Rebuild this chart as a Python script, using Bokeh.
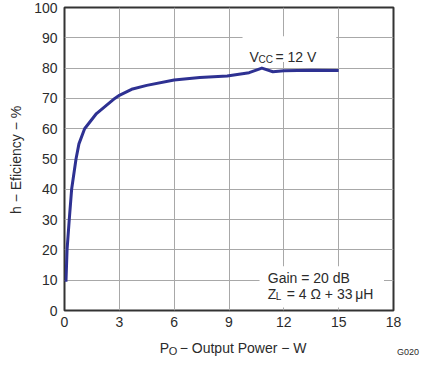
from bokeh.plotting import figure
from bokeh.models import Range1d, Label, BoxAnnotation, FixedTicker
from bokeh.embed import file_html
from bokeh.resources import INLINE

# Data
power_w = [0.08, 0.14, 0.26, 0.39, 0.63, 0.79, 1.1, 1.75, 2.75, 3.0, 3.67, 4.5, 6.0,
           7.4, 8.9, 10.1, 10.8, 11.4, 12.0, 13.5, 15.0]
efficiency = [9.5, 20, 30, 40, 50, 55, 60, 65, 70, 71, 73, 74.3, 76.1,
              76.9, 77.4, 78.5, 80.0, 78.8, 79.1, 79.3, 79.2]
x_ticks = [0, 3, 6, 9, 12, 15, 18]
y_ticks = [0, 10, 20, 30, 40, 50, 60, 70, 80, 90, 100]

FONT = "Liberation Sans"
TXT = "#2b2b2b"

p = figure(width=421, height=383, output_backend="svg", toolbar_location=None,
           x_range=Range1d(0, 18), y_range=Range1d(0, 100))
p.min_border_left = 64
p.min_border_right = 28
p.min_border_top = 7
p.min_border_bottom = 50
p.outline_line_color = "#333333"
p.outline_line_width = 2
p.background_fill_color = "white"
p.border_fill_color = "white"

for ax in (p.xaxis[0], p.yaxis[0]):
    ax.axis_line_color = None
    ax.major_tick_line_color = None
    ax.minor_tick_line_color = None
    ax.major_tick_out = 0
    ax.major_tick_in = 0
    ax.major_label_text_font = FONT
    ax.major_label_text_font_size = "14px"
    ax.major_label_text_color = TXT
    ax.axis_label = None
p.xaxis.ticker = FixedTicker(ticks=x_ticks)
p.yaxis.ticker = FixedTicker(ticks=y_ticks)
p.xaxis.major_label_standoff = 6
p.yaxis.major_label_standoff = 7

p.xgrid.ticker = FixedTicker(ticks=x_ticks[1:-1])
p.ygrid.ticker = FixedTicker(ticks=y_ticks[1:-1])
p.grid.grid_line_color = "#a8a8a8"
p.grid.grid_line_width = 1

p.line(power_w, efficiency, line_color="#2e3192", line_width=3, line_join="round")

# white boxes behind annotations
p.add_layout(BoxAnnotation(left=9.74, right=14.87, bottom=82.0, top=90.5,
                           fill_color="white", fill_alpha=1, line_color=None))
p.add_layout(BoxAnnotation(left=10.67, right=17.48, bottom=1.0, top=14.6,
                           fill_color="white", fill_alpha=1, line_color=None))

def lab(x, y, text, size="14px", xo=0, yo=0, align="left", baseline="alphabetic",
        angle=0, place="center"):
    p.add_layout(Label(x=x, y=y, text=text, x_offset=xo, y_offset=yo,
                       text_font=FONT, text_font_size=size, text_color=TXT,
                       text_align=align, text_baseline=baseline, angle=angle), place)

# V_CC = 12 V
lab(10.12, 83.75, "V")
lab(10.12, 83.75, "CC", size="10px", xo=9, yo=-3)
lab(10.12, 83.75, "= 12 V", xo=26)

# Gain / Z_L
lab(11.12, 10.6, "Gain = 20 dB")
lab(11.12, 5.5, "Z")
lab(11.12, 5.5, "L", size="10px", xo=8, yo=-3)
lab(11.12, 5.5, "= 4 \u03a9 + 33\u2009\u03bcH", xo=19)

# X axis title
lab(5.21, -12.5, "P", place="below")
lab(5.21, -12.5, "O", size="11px", xo=9, yo=-3, place="below")
lab(5.21, -12.5, "\u2212 Output Power \u2212 W", xo=20, place="below")

# Y axis title
lab(-2.63, 49.7, "h \u2212 Eficiency \u2212 %", align="center", baseline="middle",
    angle=1.5708, place="left")

# figure id
lab(19.4, -13.7, "G020", size="9px", align="right", baseline="middle", place="below")

open("out.html", "w").write(file_html(p, INLINE))
